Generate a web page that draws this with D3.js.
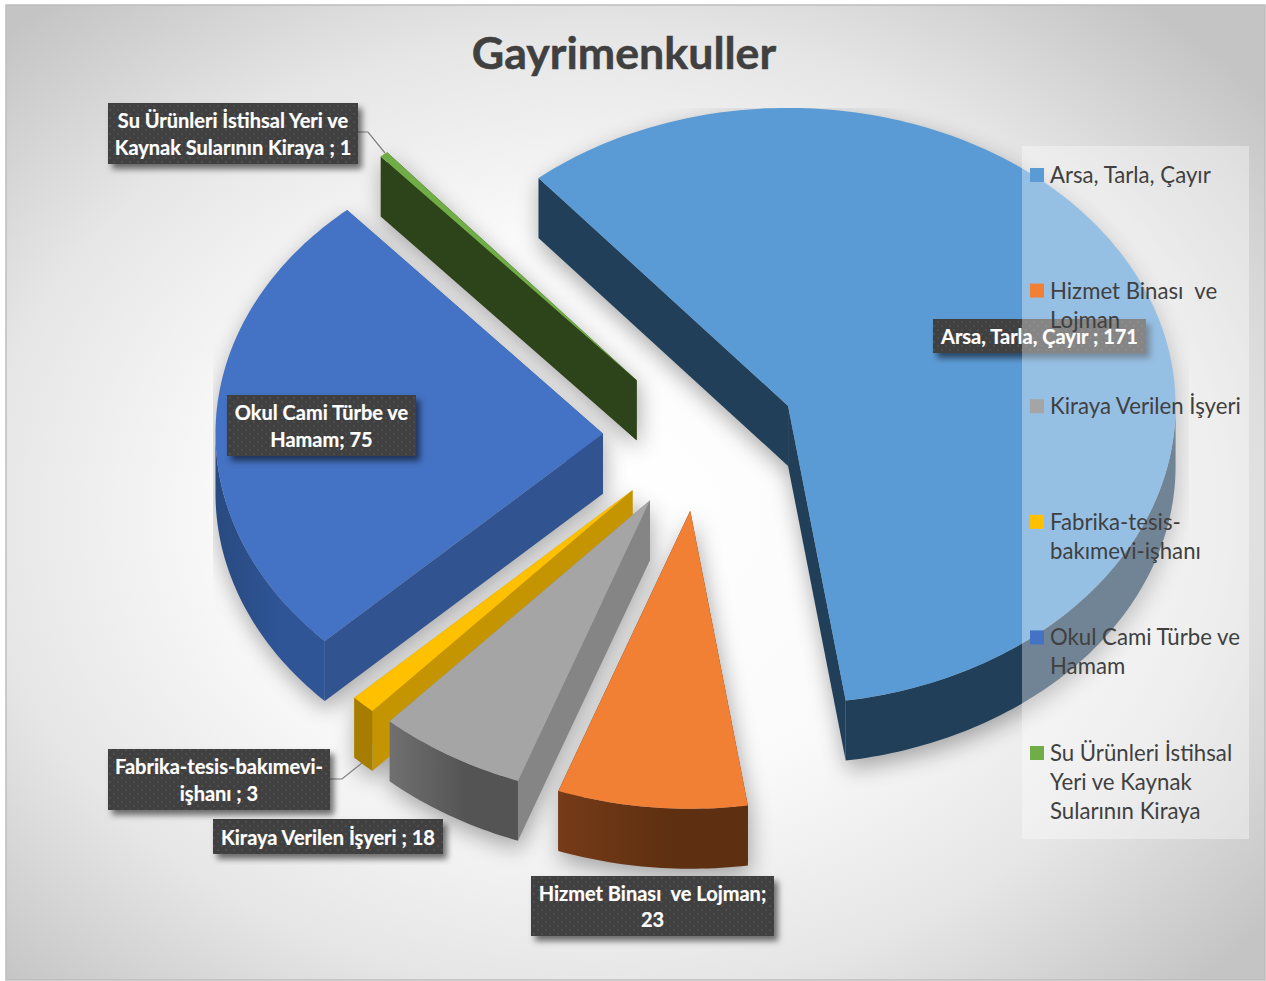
<!DOCTYPE html>
<html lang="tr">
<head>
<meta charset="utf-8">
<title>Gayrimenkuller</title>
<script src="https://cdnjs.cloudflare.com/ajax/libs/d3/7.8.5/d3.min.js"></script>
<style>
html,body{margin:0;padding:0;background:#fff;}
svg{display:block;}
text{font-family:Lato,"Open Sans",sans-serif;white-space:pre;}
</style>
</head>
<body>
<svg id="chart" width="1266" height="981"></svg>
<script>
// ---- data ----
const categories = ["Arsa, Tarla, Çayır","Hizmet Binası  ve Lojman","Kiraya Verilen İşyeri","Fabrika-tesis-bakımevi-işhanı","Okul Cami Türbe ve Hamam","Su Ürünleri İstihsal Yeri ve Kaynak Sularının Kiraya"];
const values = [171,23,18,3,75,1];
const chartTitle = "Gayrimenkuller";
const legendLines = [["Arsa, Tarla, Çayır"],["Hizmet Binası  ve","Lojman"],["Kiraya Verilen İşyeri"],["Fabrika-tesis-","bakımevi-işhanı"],["Okul Cami Türbe ve","Hamam"],["Su Ürünleri İstihsal","Yeri ve Kaynak","Sularının Kiraya"]];
const labelLines = [["Arsa, Tarla, Çayır ; 171"],["Hizmet Binası  ve Lojman;","23"],["Kiraya Verilen İşyeri ; 18"],["Fabrika-tesis-bakımevi-","işhanı ; 3"],["Okul Cami Türbe ve","Hamam; 75"],["Su Ürünleri İstihsal Yeri ve","Kaynak Sularının Kiraya ; 1"]];

// ---- styles and layout (not data) ----
const topColors = ["#5b9bd5","#f18035","#a5a5a5","#ffc000","#4472c4","#70ad47"];
const sideColors = ["#223f59","#5f3011","#858585","#c49500","#31538f","#2d4319"];
const wallStops = [["#223f59","#223f59"],["#763b18","#5e2f11"],["#707070","#545454"],["#a67d00","#a67d00"],["#294a80","#2f5597"],["#2d4319","#2d4319"]];
const labelBoxes = [[933,319,213,34],[531,876,243,60],[213,819,230,35],[108,749,222,61],[227,395,189,61],[108,103,250,61]];
const leaders = {3:[[330,779],[342,779],[362,763]],5:[[358,132],[368,132],[385,153]]};
const W=1266,H=981, cx=699.8, cy=436.6, rx=387.5, ry=298, depth=60, explode=0.25, firstAngle=-40.1;

const svg=d3.select("#chart");
const defs=svg.append("defs");

// background
const bg=defs.append("radialGradient").attr("id","bg").attr("cx","47%").attr("cy","52%").attr("r","68%");
[[0,"#ffffff"],[0.42,"#fafafa"],[0.72,"#e6e6e6"],[1,"#c4c4c4"]].forEach(s=>bg.append("stop").attr("offset",s[0]).attr("stop-color",s[1]));
svg.append("rect").attr("x",6).attr("y",5).attr("width",1259).attr("height",975).attr("fill","url(#bg)").attr("stroke","#bdbdbd").attr("stroke-width",1.5);

// filters
const blur=defs.append("filter").attr("id","pieShadow").attr("filterUnits","userSpaceOnUse")
  .attr("x",211).attr("y",100).attr("width",976).attr("height",770);
blur.append("feGaussianBlur").attr("stdDeviation",11);
const ls=defs.append("filter").attr("id","labelShadow").attr("x","-10%").attr("y","-20%").attr("width","125%").attr("height","150%");
ls.append("feDropShadow").attr("dx",4).attr("dy",5).attr("stdDeviation",3).attr("flood-color","#000").attr("flood-opacity",.55);
// label pattern
const pat=defs.append("pattern").attr("id","dots").attr("patternUnits","userSpaceOnUse").attr("width",8).attr("height",8);
pat.append("rect").attr("width",8).attr("height",8).attr("fill","#3f3f3f");
pat.append("circle").attr("cx",2).attr("cy",2).attr("r",1).attr("fill","#515151");
pat.append("circle").attr("cx",6).attr("cy",6).attr("r",1).attr("fill","#515151");

// geometry
const pie=d3.pie().sort(null).startAngle(firstAngle*Math.PI/180).endAngle((firstAngle+360)*Math.PI/180);
const arcs=pie(values).map((d,i)=>({...d,i,mid:(d.startAngle+d.endAngle)/2}));
const x=d3.scaleLinear().domain([-1,1]).range([cx-rx,cx+rx]);
const y=d3.scaleLinear().domain([-1,1]).range([cy-ry,cy+ry]);
arcs.forEach(d=>{d.ox=explode*Math.sin(d.mid);d.oy=-explode*Math.cos(d.mid);});
const P=(d,a,r,z)=>[x(d.ox+r*Math.sin(a)),y(d.oy-r*Math.cos(a))+(z||0)];
const arcPts=(d,a0,a1,z)=>{const n=Math.max(2,Math.ceil((a1-a0)/(Math.PI/180)));return d3.range(n+1).map(k=>P(d,a0+(a1-a0)*k/n,1,z));};
const line=d3.line();
const closed=pts=>line(pts)+"Z";
const topPath=d=>closed([P(d,0,0),...arcPts(d,d.startAngle,d.endAngle)]);
const sidePath=(d,a)=>closed([P(d,0,0),P(d,a,1),P(d,a,1,depth),P(d,0,0,depth)]);
const outerPath=d=>{
  const a0=Math.max(d.startAngle,Math.PI/2),a1=Math.min(d.endAngle,3*Math.PI/2);
  if(a1<=a0) return null;
  return closed([...arcPts(d,a0,a1),...arcPts(d,a0,a1,depth).reverse()]);
};
const drawOrder=arcs.slice().sort((a,b)=>d3.ascending(P(a,0,0)[1],P(b,0,0)[1]));

// wall gradients
arcs.forEach(d=>{
  const g=defs.append("linearGradient").attr("id","wall"+d.i);
  g.append("stop").attr("offset",0).attr("stop-color",wallStops[d.i][0]);
  g.append("stop").attr("offset",0.6).attr("stop-color",wallStops[d.i][1]);
});

// soft shadow
const shadow=svg.append("g").attr("filter","url(#pieShadow)").attr("opacity",.33).attr("transform","translate(2,8)");
drawOrder.forEach(d=>{
  [topPath(d),sidePath(d,d.startAngle),sidePath(d,d.endAngle),outerPath(d),
   closed([P(d,0,0,depth),...arcPts(d,d.startAngle,d.endAngle,depth)])].filter(Boolean)
   .forEach(p=>shadow.append("path").attr("d",p).attr("fill","#000"));
});

// slices
const slices=svg.append("g").selectAll("g").data(drawOrder).join("g");
slices.append("path").attr("d",d=>sidePath(d,d.endAngle)).attr("fill",d=>sideColors[d.i]);
slices.append("path").attr("d",d=>sidePath(d,d.startAngle)).attr("fill",d=>sideColors[d.i]);
slices.filter(d=>outerPath(d)).append("path").attr("d",outerPath).attr("fill",d=>`url(#wall${d.i})`);
slices.append("path").attr("d",topPath).attr("fill",d=>topColors[d.i]);

// leader lines
Object.values(leaders).forEach(l=>svg.append("path").attr("d",line(l)).attr("fill","none").attr("stroke","#7f7f7f").attr("stroke-width",1.2));

// data labels
const lab=svg.append("g").selectAll("g").data(labelLines).join("g");
lab.append("rect").attr("x",(d,i)=>labelBoxes[i][0]).attr("y",(d,i)=>labelBoxes[i][1])
  .attr("width",(d,i)=>labelBoxes[i][2]).attr("height",(d,i)=>labelBoxes[i][3])
  .attr("fill","url(#dots)").attr("filter","url(#labelShadow)");
lab.each(function(lines,i){
  const b=labelBoxes[i],g=d3.select(this),step=26.5;
  lines.forEach((t,k)=>g.append("text").attr("x",b[0]+b[2]/2)
    .attr("y",b[1]+b[3]/2+(k-(lines.length-1)/2)*step+8)
    .attr("text-anchor","middle").attr("fill","#fff").attr("stroke","#fff").attr("stroke-width",.2)
    .attr("font-weight",700).attr("font-size",20).text(t));
});

// title
svg.append("text").attr("x",624).attr("y",69).attr("text-anchor","middle").attr("font-size",44.7).attr("font-weight",700)
  .attr("stroke","#404040").attr("stroke-width",.5).attr("fill","#404040").text(chartTitle);

// legend
svg.append("rect").attr("x",1022).attr("y",146).attr("width",227).attr("height",693).attr("fill","#fff").attr("opacity",.36);
const rowY=d3.scalePoint().domain(categories).range([175,753]);
const leg=svg.append("g").selectAll("g").data(categories).join("g");
leg.append("rect").attr("x",1030).attr("y",d=>rowY(d)-7).attr("width",14).attr("height",14).attr("fill",(d,i)=>topColors[i]);
leg.each(function(d,i){
  legendLines[i].forEach((t,k)=>d3.select(this).append("text").attr("x",1050).attr("y",rowY(d)+8+k*29)
    .attr("font-size",22.2).attr("fill","#404040").text(t));
});
</script>
</body>
</html>
